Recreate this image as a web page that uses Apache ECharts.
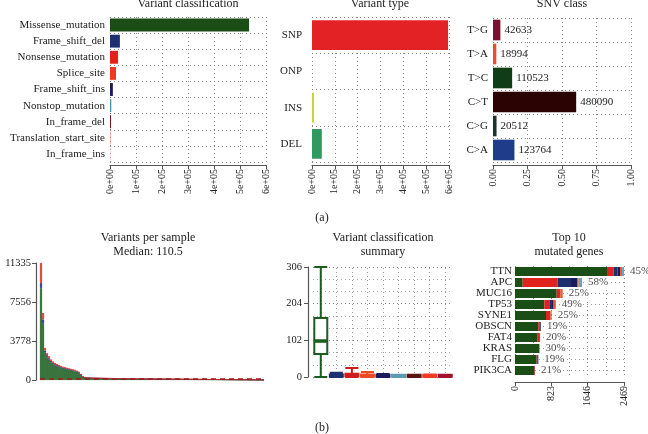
<!DOCTYPE html>
<html><head><meta charset="utf-8">
<script src="https://cdn.jsdelivr.net/npm/echarts@6/dist/echarts.min.js"></script>
<style>html,body{margin:0;padding:0;background:#fff}#c{width:648px;height:434px}</style>
</head><body><div id="c"></div>
<script>
const FONT = '"Liberation Serif", "DejaVu Serif", serif';

// Panel a1: variant classification
const vcCategories = ['Missense_mutation','Frame_shift_del','Nonsense_mutation','Splice_site','Frame_shift_ins','Nonstop_mutation','In_frame_del','Translation_start_site','In_frame_ins'];
const vcValues = [535000, 38000, 31000, 23000, 11000, 5000, 4000, 2500, 1500];
const vcColors = ['#1b4d17','#1d2f6e','#e0211d','#ee3a22','#1b1a5a','#4d93a8','#6a1a1a','#f08a80','#f6b0b0'];

// Panel a2: variant type
const vtCategories = ['SNP','ONP','INS','DEL'];
const vtValues = [596000, 0, 9000, 43000];
const vtColors = ['#e32226','#bbbbbb','#c9d33a','#2f9a60'];

// Panel a3: SNV class
const snvCategories = ['T>G','T>A','T>C','C>T','C>G','C>A'];
const snvCounts = [42633,18994,110523,480090,20512,123764];
const snvColors = ['#7b1131','#ee4b2b','#0f3d15','#2b0303','#1f3228','#1f3c8a'];

// Panel b1: variants per sample (sorted), stacked by class
const sampMissense = [8900,5450,2650,2220,1970,1710,1540,1410,1325,1240,1170,1110,1060,1010,965,925,880,840,770,685,480,282,226,198,190,183,172,168,
  165,159,155,150,146,142,140,135,134,130,128,126,123,121,118,117,114,112,111,109,107,106,104,102,100,99,97,95,95,93,91,89,88,87,85,84,83,81,79,77,77,75,73,72,70,69,67,66,64,62,60,60,58,56,55,53,51,50,49,47,45,43,43,41,39,37,36,34,33,31,30,28,26,25,24,22,20,18,17,15,13,11,9,6];
const sampFsDel = [500,400,200,180,150,130,120,110,100,95,90,85,80,75,75,70,70,65,60,50,35,21,17,15,14,14,13,13,
  12,12,11,11,11,10,10,10,9,9,9,9,8,8,8,8,8,8,7,7,7,7,7,7,7,6,6,6,6,6,6,6,6,5,5,5,5,5,5,5,5,5,5,4,4,4,4,4,4,4,4,3,3,3,3,3,3,3,3,3,3,3,2,2,2,2,2,2,2,2,2,2,2,1,1,1,1,1,1,1,1,1,0,0];
const sampNonsense = [1935,650,250,200,180,160,140,130,125,115,110,105,100,95,90,85,80,75,70,65,45,27,22,19,18,17,16,16,
  16,15,15,14,14,14,13,13,13,13,12,12,12,12,12,11,11,11,11,11,11,10,10,10,10,10,10,10,9,9,9,9,9,9,9,8,8,8,8,8,7,7,7,7,7,7,7,6,6,6,6,6,6,6,5,5,5,5,4,4,4,4,4,4,4,4,3,3,3,3,2,2,2,2,2,2,2,2,1,1,1,1,1,1];
const sampleMedian = 110.5;
const sampTicks = [0,3778,7556,11335];

// Panel b2: variant classification summary (min, Q1, median, Q3, max)
const boxStats = [
  [0,64,100,164,306],
  [0,1,3,7,12],
  [0,2,5,9,25],
  [0,1,3,7,14],
  [0,1,2,6,8],
  [0,1,2,6,6],
  [0,1,2,6,6],
  [0,1,2,6,7],
  [0,1,2,6,6]
];

// Panel b3: top 10 mutated genes
const genes = ['TTN','APC','MUC16','TP53','SYNE1','OBSCN','FAT4','KRAS','FLG','PIK3CA'];
const gMissense = [2084,174,944,664,702,528,513,551,491,430];
const gNonsense = [150,793,60,113,75,40,45,5,30,18];
const gFsDel = [90,302,23,60,23,15,10,0,8,5];
const gFsIns = [54,136,0,38,0,5,0,0,0,0];
const gSplice = [45,38,53,50,30,0,0,0,0,0];
const gOther = [46,75,0,0,0,0,0,0,0,0];
const gPct = ['45%','58%','25%','49%','25%','19%','20%','30%','19%','21%'];

const TXT = '#222';
const AX = '#555';
const dotted = {show:true, lineStyle:{type:[1,3], color:'#888', width:1}};
const lbl = (s) => Object.assign({color:TXT, fontFamily:FONT, fontSize:11}, s||{});
const plain = v => String(v);

const chart = echarts.init(document.getElementById('c'), null, {renderer:'canvas'});

const sciFmt = v => { if (v === 0) return '0e+00'; return (v/100000) + 'e+05'; };

const grids = [
  {left:110, top:17, width:156, height:145},
  {left:312, top:17, width:137, height:145},
  {left:493, top:18, width:138, height:144},
  {left:40, top:263, width:224, height:117},
  {left:313, top:267, width:140, height:110},
  {left:515, top:266, width:109, height:110}
];

const xRot = (extra) => Object.assign({
  position:'bottom', offset:3,
  axisLine:{show:true, lineStyle:{color:AX, width:1.2}},
  axisTick:{show:true, length:4, lineStyle:{color:AX}},
  axisLabel:lbl({rotate:90, fontSize:10, margin:4}),
  splitLine:dotted
}, extra);

const totalsTop = genes.map((g,i)=>gMissense[i]+gNonsense[i]+gFsDel[i]+gFsIns[i]+gSplice[i]+gOther[i]);
const snvTotal = snvCounts.reduce((a,b)=>a+b,0);
const sampleIds = sampMissense.map((_,i)=>'S'+(i+1));
const boxColors = ['#1b5e20','#1d2f6e','#d01c1c','#ee4a22','#1b1a5a','#5b9ab0','#5a1212','#f03a22','#a3122c'];
const boxNames = vcCategories;
const sampBar = (name, data, color) => ({type:'bar', name, xAxisIndex:3, yAxisIndex:3, stack:'s', barCategoryGap:'0%', data,
  itemStyle:{color, borderColor:color, borderWidth:0.6}});

const option = {
  animation:false,
  backgroundColor:'#fff',
  grid: grids,
  xAxis: [
    xRot({gridIndex:0, type:'value', min:0, max:600000, interval:100000, axisLabel:lbl({rotate:90, fontSize:10, margin:4, formatter:sciFmt})}),
    xRot({gridIndex:1, type:'value', min:0, max:600000, interval:100000, axisLabel:lbl({rotate:90, fontSize:10, margin:4, formatter:sciFmt})}),
    xRot({gridIndex:2, type:'value', min:0, max:1, interval:0.25, axisLabel:lbl({rotate:90, fontSize:10, margin:4, formatter:v=>v.toFixed(2)})}),
    {gridIndex:3, type:'category', data:sampleIds, show:false},
    {gridIndex:4, type:'category', data:boxNames, axisLine:{show:false}, axisTick:{show:false}, axisLabel:{show:false}, splitLine:{show:false}},
    xRot({gridIndex:5, type:'value', min:0, max:2469, interval:823, offset:6,
      minorTick:{show:false, splitNumber:2}, minorSplitLine:{show:true, lineStyle:{type:[1,3], color:'#999'}},
      axisLabel:lbl({rotate:90, fontSize:10, margin:4, formatter:plain})})
  ],
  yAxis: [
    {gridIndex:0, type:'category', inverse:true, data:vcCategories, axisLine:{show:false}, axisTick:{show:false}, axisLabel:lbl({margin:5, interval:0}), splitLine:Object.assign({interval:0}, dotted)},
    {gridIndex:1, type:'category', inverse:true, data:vtCategories, axisLine:{show:false}, axisTick:{show:false}, axisLabel:lbl({margin:10, interval:0}), splitLine:dotted},
    {gridIndex:2, type:'category', inverse:true, data:snvCategories, axisLine:{show:false}, axisTick:{show:false}, axisLabel:lbl({margin:5, interval:0}), splitLine:dotted},
    {gridIndex:3, type:'value', min:0, max:11335, offset:4,
      axisLine:{show:true, lineStyle:{color:AX, width:1.2}},
      axisTick:{show:true, length:4, customValues:sampTicks, lineStyle:{color:AX}},
      axisLabel:lbl({fontSize:10.5, margin:5, customValues:sampTicks, formatter:plain}), splitLine:{show:false}},
    {gridIndex:4, type:'value', min:0, max:306, interval:102, offset:5,
      axisLine:{show:true, lineStyle:{color:AX, width:1.2}},
      axisTick:{show:true, length:4, lineStyle:{color:AX}},
      minorTick:{show:false, splitNumber:3},
      minorSplitLine:{show:true, lineStyle:{type:[1,3], color:'#aaa'}},
      axisLabel:lbl({fontSize:10.5, margin:6, formatter:plain}), splitLine:dotted},
    {gridIndex:5, type:'category', inverse:true, data:genes, axisLine:{show:false}, axisTick:{show:false}, axisLabel:lbl({margin:3, interval:0, fontSize:11}), splitLine:{show:false}}
  ],
  series: [
    {type:'bar', xAxisIndex:0, yAxisIndex:0, barWidth:'80%',
      data: vcValues.map((v,i)=>({value:v, itemStyle:{color:vcColors[i]}}))},
    {type:'bar', xAxisIndex:1, yAxisIndex:1, barWidth:'82%',
      data: vtValues.map((v,i)=>({value:v, itemStyle:{color:vtColors[i]}}))},
    {type:'bar', xAxisIndex:2, yAxisIndex:2, barWidth:'86%',
      data: snvCounts.map((c,i)=>({value:c/snvTotal, itemStyle:{color:snvColors[i]}})),
      label:{show:true, position:'right', distance:4, color:TXT, fontFamily:FONT, fontSize:11,
        formatter:p=>String(snvCounts[p.dataIndex])}},
    Object.assign(sampBar('Missense', sampMissense, '#1b5e20'), {
      markLine:{silent:true, symbol:'none', z:6, label:{show:false}, lineStyle:{type:[5,4], color:'#a01818', width:1.5}, data:[{yAxis:sampleMedian}]}}),
    sampBar('Frame_shift_del', sampFsDel, '#1d2f6e'),
    sampBar('Nonsense', sampNonsense, '#d92a2a'),
    {type:'boxplot', xAxisIndex:4, yAxisIndex:4, boxWidth:[13,13], z:3,
      data: boxStats.map((s,i)=>({value:s, itemStyle: i===0
        ? {color:'#ffffff', borderColor:boxColors[0], borderWidth:2}
        : {color:boxColors[i], borderColor:boxColors[i], borderWidth:2}})),
      markLine:{silent:true, symbol:'none', z:0, label:{show:false}, lineStyle:{type:[1,3], color:'#999', width:1},
        data: boxNames.map(n=>({xAxis:n}))}},
    {type:'scatter', xAxisIndex:4, yAxisIndex:4, symbol:'rect', symbolSize:[13,4], silent:true, z:4,
      data:[[boxNames[0], boxStats[0][2]]], itemStyle:{color:boxColors[0]}},
    {type:'bar', xAxisIndex:5, yAxisIndex:5, stack:'g', barWidth:'82%', data:gMissense, itemStyle:{color:'#1b4d17'}},
    {type:'bar', xAxisIndex:5, yAxisIndex:5, stack:'g', barWidth:'82%', data:gNonsense, itemStyle:{color:'#e0211d'}},
    {type:'bar', xAxisIndex:5, yAxisIndex:5, stack:'g', barWidth:'82%', data:gFsDel, itemStyle:{color:'#1d2f6e'}},
    {type:'bar', xAxisIndex:5, yAxisIndex:5, stack:'g', barWidth:'82%', data:gFsIns, itemStyle:{color:'#1b1a5a'}},
    {type:'bar', xAxisIndex:5, yAxisIndex:5, stack:'g', barWidth:'82%', data:gSplice, itemStyle:{color:'#ee5a2a'}},
    {type:'bar', xAxisIndex:5, yAxisIndex:5, stack:'g', barWidth:'82%', data:gOther, itemStyle:{color:'#6aa6b8'}},
    {type:'scatter', xAxisIndex:5, yAxisIndex:5, symbolSize:0, silent:true, z:1,
      data: genes.map((g,i)=>[totalsTop[i], g]),
      label:{show:true, position:'right', distance:5, color:TXT, fontFamily:FONT, fontSize:11, formatter:p=>gPct[p.dataIndex],
        backgroundColor:'#fff', padding:[0,1]},
      markLine:{silent:true, symbol:'none', z:0, label:{show:false}, lineStyle:{type:[1,3], color:'#999', width:1},
        data: genes.map(g=>({yAxis:g}))}}
  ],
  graphic: [
    {type:'text', x:188, y:4, style:{text:'Variant classification', font:'12px '+FONT, fill:TXT, align:'center', verticalAlign:'middle'}},
    {type:'text', x:380, y:4, style:{text:'Variant type', font:'12px '+FONT, fill:TXT, align:'center', verticalAlign:'middle'}},
    {type:'text', x:562, y:4, style:{text:'SNV class', font:'12px '+FONT, fill:TXT, align:'center', verticalAlign:'middle'}},
    {type:'text', x:322, y:218, style:{text:'(a)', font:'12px '+FONT, fill:TXT, align:'center', verticalAlign:'middle'}},
    {type:'text', x:148, y:238, style:{text:'Variants per sample', font:'12px '+FONT, fill:TXT, align:'center', verticalAlign:'middle'}},
    {type:'text', x:148, y:252, style:{text:'Median: 110.5', font:'12px '+FONT, fill:TXT, align:'center', verticalAlign:'middle'}},
    {type:'text', x:383, y:238, style:{text:'Variant classification', font:'12px '+FONT, fill:TXT, align:'center', verticalAlign:'middle'}},
    {type:'text', x:383, y:252, style:{text:'summary', font:'12px '+FONT, fill:TXT, align:'center', verticalAlign:'middle'}},
    {type:'text', x:569, y:238, style:{text:'Top 10', font:'12px '+FONT, fill:TXT, align:'center', verticalAlign:'middle'}},
    {type:'text', x:569, y:252, style:{text:'mutated genes', font:'12px '+FONT, fill:TXT, align:'center', verticalAlign:'middle'}},
    {type:'text', x:322, y:428, style:{text:'(b)', font:'12px '+FONT, fill:TXT, align:'center', verticalAlign:'middle'}}
  ]
};
chart.setOption(option);
</script>
</body></html>
